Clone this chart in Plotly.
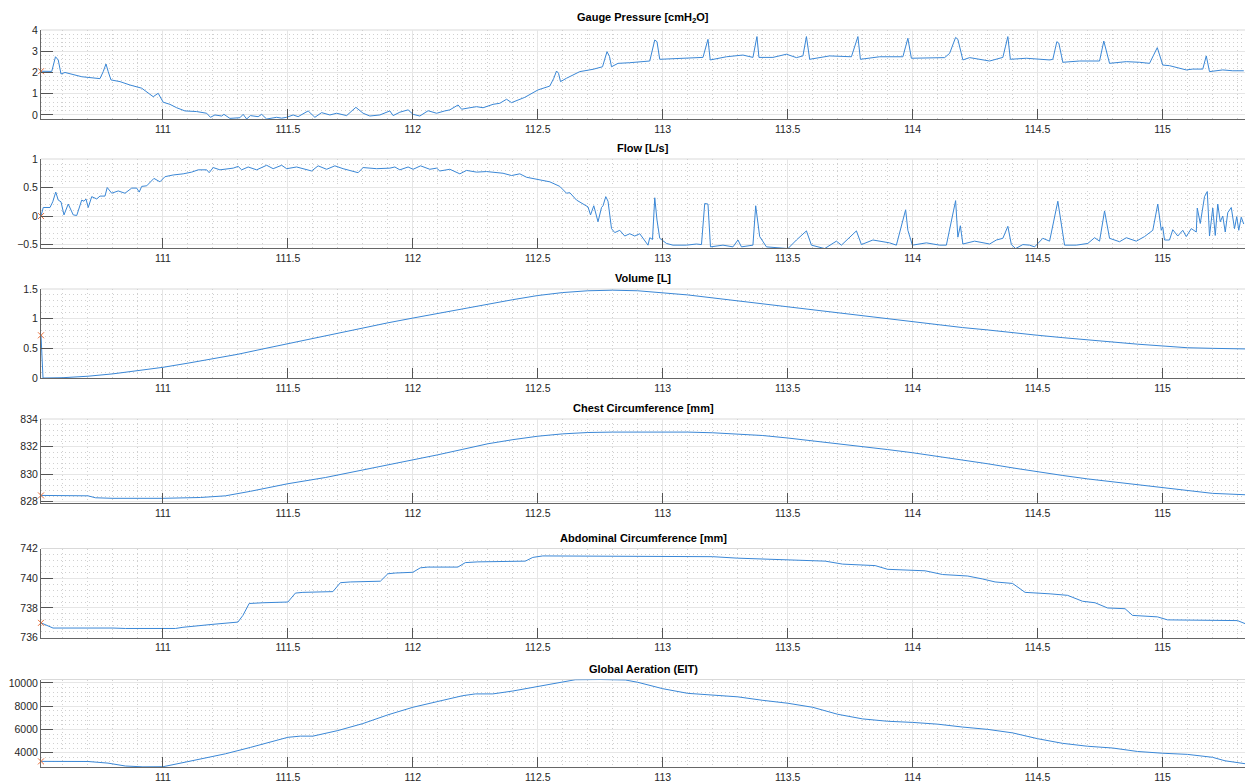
import plotly.graph_objects as go

# ---------------- data ----------------
t_pressure = [110.512, 110.555, 110.570, 110.581, 110.592, 110.608, 110.675, 110.708, 110.748, 110.761,
              110.772, 110.781, 110.792, 110.828, 110.868, 110.915, 110.961, 110.981, 111.001, 111.028,
              111.055, 111.088, 111.135, 111.175, 111.190, 111.208, 111.235, 111.244, 111.268, 111.308,
              111.321, 111.335, 111.350, 111.381, 111.395, 111.415, 111.455, 111.475, 111.495, 111.521,
              111.541, 111.581, 111.608, 111.635, 111.668, 111.695, 111.735, 111.772, 111.801, 111.828,
              111.868, 111.908, 111.921, 111.948, 111.981, 112.001, 112.028, 112.061, 112.095, 112.128,
              112.148, 112.181, 112.195, 112.228, 112.255, 112.281, 112.321, 112.348, 112.375, 112.395,
              112.428, 112.448, 112.501, 112.548, 112.564, 112.575, 112.583, 112.591, 112.615, 112.668,
              112.721, 112.759, 112.777, 112.787, 112.795, 112.821, 112.868, 112.948, 112.968, 112.977,
              112.988, 113.068, 113.161, 113.181, 113.190, 113.255, 113.321, 113.361, 113.377, 113.385,
              113.441, 113.495, 113.535, 113.561, 113.575, 113.588, 113.668, 113.755, 113.781, 113.791,
              113.868, 113.961, 113.981, 113.995, 114.068, 114.128, 114.148, 114.172, 114.181, 114.201,
              114.228, 114.308, 114.361, 114.381, 114.391, 114.455, 114.548, 114.561, 114.577, 114.585,
              114.601, 114.668, 114.748, 114.765, 114.788, 114.855, 114.908, 114.948, 114.979, 115.001,
              115.028, 115.095, 115.121, 115.161, 115.175, 115.188, 115.241, 115.281, 115.325]
pressure = [2.06, 2.05, 2.74, 2.59, 1.93, 2.00, 1.80, 1.76, 1.71, 2.04,
            2.40, 2.04, 1.65, 1.57, 1.41, 1.26, 0.86, 1.02, 0.60, 0.50,
            0.34, 0.19, 0.16, 0.08, -0.11, 0.00, -0.05, 0.03, -0.16, -0.13,
            0.03, -0.19, -0.03, -0.08, 0.03, -0.19, -0.11, -0.15, -0.11, 0.00,
            -0.08, 0.19, -0.11, 0.11, 0.00, 0.08, -0.03, 0.36, 0.08, -0.05,
            0.00, 0.19, -0.03, 0.13, 0.24, 0.03, -0.05, 0.20, 0.08, 0.19,
            0.24, 0.47, 0.27, 0.34, 0.39, 0.34, 0.50, 0.55, 0.74, 0.58,
            0.74, 0.83, 1.18, 1.36, 1.73, 2.07, 1.96, 1.57, 1.73, 2.04,
            2.15, 2.27, 2.98, 2.75, 2.27, 2.43, 2.46, 2.54, 3.53, 3.45,
            2.62, 2.67, 2.71, 3.56, 2.59, 2.74, 2.82, 2.71, 3.69, 2.71,
            2.71, 2.86, 2.70, 2.78, 3.69, 2.62, 2.78, 2.74, 3.69, 2.62,
            2.74, 2.74, 3.61, 2.67, 2.67, 2.70, 2.90, 3.65, 3.56, 2.59,
            2.70, 2.54, 2.71, 3.69, 2.62, 2.67, 2.59, 2.62, 3.45, 3.38,
            2.48, 2.54, 2.54, 3.48, 2.43, 2.51, 2.48, 2.43, 3.17, 2.35,
            2.32, 2.12, 2.16, 2.16, 2.78, 2.04, 2.12, 2.08, 2.08]

t_flow = [110.512, 110.521, 110.548, 110.559, 110.571, 110.581, 110.592, 110.604, 110.621, 110.641,
          110.655, 110.675, 110.684, 110.692, 110.701, 110.715, 110.735, 110.748, 110.768, 110.777,
          110.795, 110.821, 110.848, 110.875, 110.895, 110.905, 110.915, 110.935, 110.964, 110.988,
          111.008, 111.041, 111.081, 111.115, 111.141, 111.175, 111.185, 111.201, 111.228, 111.281,
          111.301, 111.315, 111.341, 111.375, 111.415, 111.441, 111.475, 111.495, 111.535, 111.595,
          111.621, 111.655, 111.688, 111.721, 111.781, 111.801, 111.855, 111.908, 111.928, 111.948,
          111.981, 112.001, 112.031, 112.068, 112.095, 112.108, 112.148, 112.188, 112.215, 112.255,
          112.295, 112.361, 112.395, 112.428, 112.455, 112.495, 112.548, 112.588, 112.615, 112.628,
          112.655, 112.701, 112.711, 112.724, 112.741, 112.755, 112.761, 112.772, 112.781, 112.795,
          112.808, 112.828, 112.848, 112.868, 112.888, 112.908, 112.928, 112.941, 112.948, 112.959,
          112.968, 112.977, 112.988, 113.015, 113.041, 113.095, 113.135, 113.155, 113.168, 113.181,
          113.191, 113.241, 113.281, 113.301, 113.315, 113.361, 113.372, 113.388, 113.415, 113.468,
          113.501, 113.535, 113.575, 113.595, 113.648, 113.695, 113.715, 113.775, 113.795, 113.841,
          113.908, 113.935, 113.972, 113.981, 113.999, 114.055, 114.108, 114.135, 114.172, 114.181,
          114.191, 114.201, 114.248, 114.308, 114.335, 114.361, 114.381, 114.395, 114.412, 114.441,
          114.468, 114.488, 114.521, 114.548, 114.581, 114.608, 114.655, 114.701, 114.728, 114.748,
          114.768, 114.788, 114.828, 114.855, 114.895, 114.928, 114.961, 114.981, 114.995, 115.001,
          115.008, 115.028, 115.041, 115.061, 115.081, 115.095, 115.115, 115.135, 115.139, 115.151,
          115.161, 115.168, 115.179, 115.188, 115.201, 115.211, 115.221, 115.231, 115.241, 115.251,
          115.261, 115.275, 115.288, 115.297, 115.305, 115.315, 115.325]
flow = [0.00, 0.15, 0.15, 0.25, 0.42, 0.28, 0.25, 0.02, 0.21, 0.02,
        0.01, 0.28, 0.26, 0.30, 0.15, 0.34, 0.30, 0.35, 0.35, 0.50,
        0.40, 0.44, 0.40, 0.49, 0.49, 0.42, 0.52, 0.53, 0.66, 0.60,
        0.69, 0.72, 0.74, 0.77, 0.81, 0.81, 0.76, 0.85, 0.81, 0.84,
        0.87, 0.81, 0.86, 0.81, 0.89, 0.83, 0.89, 0.83, 0.86, 0.79,
        0.88, 0.82, 0.88, 0.83, 0.76, 0.85, 0.83, 0.84, 0.86, 0.81,
        0.86, 0.82, 0.88, 0.82, 0.84, 0.79, 0.82, 0.74, 0.80, 0.77,
        0.78, 0.75, 0.71, 0.74, 0.68, 0.65, 0.60, 0.52, 0.40, 0.41,
        0.28, 0.16, 0.02, 0.18, -0.10, 0.15, 0.18, 0.34, 0.26, -0.22,
        -0.29, -0.25, -0.35, -0.31, -0.35, -0.31, -0.42, -0.51, -0.38, -0.41,
        0.32, -0.07, -0.39, -0.48, -0.51, -0.51, -0.49, -0.50, 0.22, 0.21,
        -0.54, -0.51, -0.54, -0.42, -0.54, -0.51, 0.18, -0.36, -0.54, -0.55,
        -0.57, -0.42, -0.26, -0.51, -0.57, -0.44, -0.51, -0.26, -0.50, -0.42,
        -0.47, -0.51, 0.11, -0.25, -0.51, -0.47, -0.51, -0.51, 0.27, -0.37,
        -0.17, -0.49, -0.44, -0.49, -0.42, -0.39, -0.18, -0.50, -0.57, -0.50,
        -0.51, -0.54, -0.39, -0.44, 0.26, -0.51, -0.51, -0.48, -0.38, -0.44,
        0.09, -0.39, -0.45, -0.38, -0.44, -0.36, -0.25, 0.21, -0.25, -0.19,
        -0.42, -0.42, -0.24, -0.35, -0.25, -0.36, -0.22, -0.28, 0.14, -0.13,
        0.11, 0.34, 0.43, -0.35, 0.14, -0.34, 0.21, -0.10, 0.00, -0.28,
        0.06, 0.15, -0.22, -0.01, -0.25, -0.02, -0.14]

t_volume = [110.512, 110.520, 110.6, 110.7, 110.8, 110.9, 111.0, 111.1, 111.2, 111.3,
            111.4, 111.5, 111.6, 111.7, 111.8, 111.9, 112.0, 112.1, 112.2, 112.3,
            112.4, 112.5, 112.6, 112.7, 112.8, 112.9, 113.0, 113.1, 113.2, 113.3,
            113.4, 113.5, 113.6, 113.7, 113.8, 113.9, 114.0, 114.1, 114.2, 114.3,
            114.4, 114.5, 114.6, 114.7, 114.8, 114.9, 115.0, 115.1, 115.2, 115.33]
volume = [0.72, 0.00, 0.005, 0.03, 0.07, 0.12, 0.18, 0.25, 0.32, 0.40,
          0.49, 0.58, 0.67, 0.75, 0.84, 0.93, 1.01, 1.09, 1.17, 1.25,
          1.32, 1.39, 1.44, 1.47, 1.48, 1.47, 1.44, 1.40, 1.35, 1.30,
          1.25, 1.19, 1.14, 1.09, 1.04, 0.99, 0.95, 0.90, 0.85, 0.81,
          0.76, 0.72, 0.68, 0.64, 0.60, 0.57, 0.54, 0.51, 0.50, 0.49]

t_chest = [110.512, 110.70, 110.73, 110.80, 111.00, 111.05, 111.15, 111.25, 111.35, 111.50,
           111.65, 111.80, 111.90, 112.00, 112.10, 112.20, 112.30, 112.40, 112.50, 112.60,
           112.70, 112.80, 112.90, 113.00, 113.10, 113.20, 113.30, 113.40, 113.50, 113.60,
           113.70, 113.80, 113.90, 114.00, 114.10, 114.20, 114.30, 114.40, 114.50, 114.60,
           114.70, 114.80, 114.90, 115.00, 115.10, 115.20, 115.33]
chest = [828.45, 828.42, 828.28, 828.24, 828.24, 828.26, 828.30, 828.42, 828.75, 829.30,
         829.75, 830.30, 830.65, 831.05, 831.40, 831.80, 832.20, 832.50, 832.75, 832.92,
         833.02, 833.05, 833.06, 833.06, 833.05, 833.00, 832.92, 832.80, 832.62, 832.42,
         832.20, 831.98, 831.78, 831.55, 831.30, 831.05, 830.75, 830.45, 830.15, 829.90,
         829.65, 829.45, 829.25, 829.05, 828.85, 828.60, 828.50]

t_abdomen = [110.512, 110.56, 110.80, 110.85, 111.05, 111.08, 111.20, 111.30, 111.32, 111.345,
             111.40, 111.50, 111.53, 111.56, 111.68, 111.71, 111.75, 111.87, 111.90, 111.93,
             112.00, 112.03, 112.06, 112.18, 112.21, 112.26, 112.45, 112.48, 112.52, 113.00,
             113.20, 113.30, 113.45, 113.55, 113.65, 113.72, 113.85, 113.90, 114.00, 114.05,
             114.12, 114.22, 114.28, 114.33, 114.40, 114.45, 114.55, 114.62, 114.68, 114.73,
             114.78, 114.85, 114.88, 114.98, 115.02, 115.30, 115.33]
abdomen = [737.00, 736.65, 736.65, 736.62, 736.62, 736.70, 736.90, 737.05, 737.50, 738.30,
           738.35, 738.40, 739.00, 739.05, 739.10, 739.70, 739.75, 739.80, 740.30, 740.35,
           740.40, 740.70, 740.75, 740.75, 741.05, 741.10, 741.15, 741.40, 741.50, 741.50,
           741.45, 741.35, 741.25, 741.20, 741.15, 740.95, 740.85, 740.60, 740.55, 740.50,
           740.25, 740.15, 739.95, 739.75, 739.65, 739.05, 738.95, 738.85, 738.45, 738.35,
           738.00, 737.95, 737.50, 737.40, 737.20, 737.15, 736.95]

t_eit = [110.512, 110.70, 110.78, 110.85, 110.92, 111.00, 111.10, 111.25, 111.35, 111.45,
         111.50, 111.55, 111.60, 111.70, 111.80, 111.90, 112.00, 112.10, 112.20, 112.25,
         112.32, 112.40, 112.50, 112.60, 112.65, 112.75, 112.85, 112.90, 113.00, 113.10,
         113.20, 113.30, 113.40, 113.50, 113.60, 113.70, 113.80, 113.90, 114.00, 114.10,
         114.20, 114.30, 114.40, 114.50, 114.60, 114.70, 114.80, 114.90, 115.00, 115.10,
         115.20, 115.25, 115.33]
eit = [3250, 3240, 3100, 2850, 2780, 2790, 3230, 3900, 4450, 5050,
       5320, 5420, 5420, 5900, 6500, 7250, 7900, 8400, 8900, 9050,
       9050, 9300, 9700, 10100, 10270, 10290, 10250, 10050, 9500, 9100,
       8950, 8800, 8500, 8250, 7900, 7300, 6900, 6700, 6600, 6450,
       6200, 6000, 5700, 5200, 4800, 4550, 4400, 4100, 3950, 3850,
       3600, 3300, 3050]

titles = ["Gauge Pressure [cmH<sub>2</sub>O]", "Flow [L/s]", "Volume [L]",
          "Chest Circumference [mm]", "Abdominal Circumference [mm]", "Global Aeration (EIT)"]

# ---------------- styling / layout ----------------
W, H = 1245, 781
LEFT = 41
BLUE = "#3a87d6"
RED = "#e8703a"
FONT = "Liberation Sans, Arial, sans-serif"
XRANGE = [110.512, 115.33]

series = [(t_pressure, pressure), (t_flow, flow), (t_volume, volume),
          (t_chest, chest), (t_abdomen, abdomen), (t_eit, eit)]
yranges = [[-0.19, 4], [-0.56, 1], [0, 1.5], [827.9, 834], [736, 742], [2740, 10290]]
ydticks = [1, 0.5, 0.5, 2, 2, 2000]
yminor = [0.2, 0.1, 0.1, 0.4, 0.4, 400]
tops = [30, 159, 289, 419, 548.5, 679.5]
bottoms = [119, 248, 378, 503, 637.7, 767.3]

fig = go.Figure()
layout = {}
for i, ((tx, ty), title) in enumerate(zip(series, titles)):
    n = "" if i == 0 else str(i + 1)
    xa, ya = "x" + n, "y" + n
    fig.add_trace(go.Scatter(x=tx, y=ty, mode="lines", line=dict(color=BLUE, width=1),
                             xaxis=xa, yaxis=ya, showlegend=False, hoverinfo="skip"))
    fig.add_trace(go.Scatter(x=[tx[0]], y=[ty[0]], mode="markers",
                             marker=dict(symbol="x-thin", size=6, line=dict(color=RED, width=1)),
                             xaxis=xa, yaxis=ya, showlegend=False, hoverinfo="skip", cliponaxis=False))
    d0 = 1 - bottoms[i] / H
    d1 = 1 - tops[i] / H
    layout["xaxis" + n] = dict(
        domain=[0, 1], anchor=ya, range=XRANGE, tick0=0, dtick=0.5, automargin=False,
        ticks="inside", ticklen=10, tickwidth=1, tickcolor="#555555",
        showline=True, linecolor="#666666", linewidth=1,
        showgrid=True, gridcolor="#e6e6e6", gridwidth=1, zeroline=False,
        tickfont=dict(family=FONT, size=10.5, color="#262626"),
        minor=dict(tick0=0, dtick=0.1, showgrid=True, griddash="1px,3px", gridcolor="#d0d0d0", gridwidth=1, ticks=""),
    )
    layout["yaxis" + n] = dict(
        domain=[d0, d1], anchor=xa, range=yranges[i], tick0=0, dtick=ydticks[i], automargin=False,
        tickformat="d" if i >= 3 else "",
        ticks="inside", ticklen=12, tickwidth=1, tickcolor="#555555",
        showline=True, linecolor="#666666", linewidth=1,
        showgrid=True, gridcolor="#e6e6e6", gridwidth=1, zeroline=False,
        tickfont=dict(family=FONT, size=10.5, color="#262626"),
        minor=dict(tick0=0, dtick=yminor[i], showgrid=True, griddash="1px,3px", gridcolor="#d0d0d0", gridwidth=1, ticks=""),
    )
    fig.add_annotation(text="<b>" + title + "</b>", xref="paper", yref="paper",
                       x=0.5, y=d1, yshift=3, xanchor="center", yanchor="bottom", showarrow=False,
                       font=dict(family=FONT, size=11, color="#000000"))
    fig.add_shape(type="line", xref=xa + " domain", yref=ya + " domain", x0=0, x1=1, y0=1, y1=1,
                  line=dict(color="#d9d9d9", width=1), layer="below")

fig.update_layout(width=W, height=H, margin=dict(l=LEFT, r=0, t=0, b=0),
                  paper_bgcolor="white", plot_bgcolor="white", **layout)
fig.write_html("out.html", config={"displayModeBar": False},
               post_script="document.body.style.margin='0';document.body.style.overflow='hidden';")
